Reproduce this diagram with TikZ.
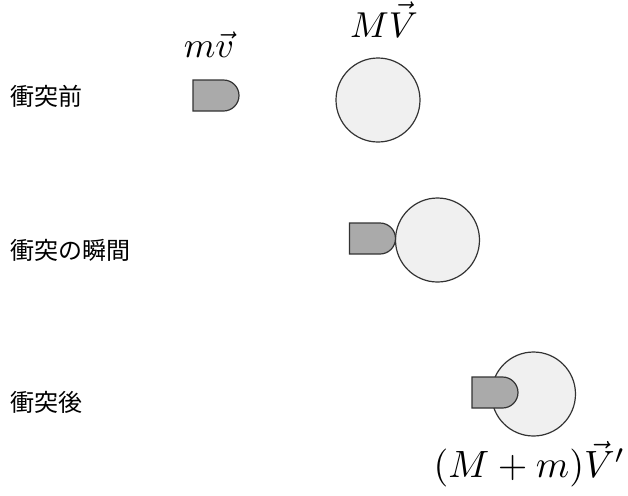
\documentclass[tikz,border=0pt]{standalone}
\usepackage{graphicx}
\usepackage{fontspec}
\newfontfamily\jpfont{Noto Sans CJK JP}
\usetikzlibrary{positioning, shapes.misc}
\definecolor{dangan}{HTML}{AAAAAA}
\definecolor{kyutai}{HTML}{F0F0F0}
\definecolor{seniro}{HTML}{333333}
\newcommand{\ookiku}[2][1.8]{\scalebox{#1}{$#2$}}

\begin{document}
\begin{tikzpicture}[
    x=0.5pt, y=-0.5pt,
    jikoku/.style={anchor=west, inner sep=0pt, font=\jpfont\fontsize{12}{14}\selectfont},
    ryo/.style={inner sep=0pt},
    tama/.style={draw=seniro, fill=dangan, line width=0.6pt,
        rounded rectangle, rounded rectangle left arc=none,
        minimum width=23pt, minimum height=15.5pt, inner sep=0pt},
    kyu/.style={circle, draw=seniro, fill=kyutai, line width=0.6pt,
        minimum size=42pt, inner sep=0pt}
]
\useasboundingbox (0,0) rectangle (628,495);

% 衝突前
\node[jikoku] (t1) at (10,96) {衝突前};
\node[tama] (b1) at (216,95.5) {};
\node[kyu] (c1) at (378,100) {};
\node[ryo, above=11pt of b1, xshift=-3.5pt] (p1) {\ookiku{m\vec{v}}};
\node[ryo, above=10pt of c1, xshift=3pt] (p2) {\ookiku{M\vec{V}}};

% 衝突の瞬間
\node[jikoku] (t2) at (10,250) {衝突の瞬間};
\node[kyu] (c2) at (437.5,240) {};
\node[tama] (b2) at (372.5,238.5) {};

% 衝突後
\node[jikoku] (t3) at (10,402) {衝突後};
\node[kyu] (c3) at (533.5,394) {};
\node[tama] (b3) at (495,392.5) {};
\node[ryo, below=2pt of c3, xshift=-2pt] (p3) {\ookiku[1.9]{(M+m)\vec{V}'}};
\end{tikzpicture}
\end{document}
